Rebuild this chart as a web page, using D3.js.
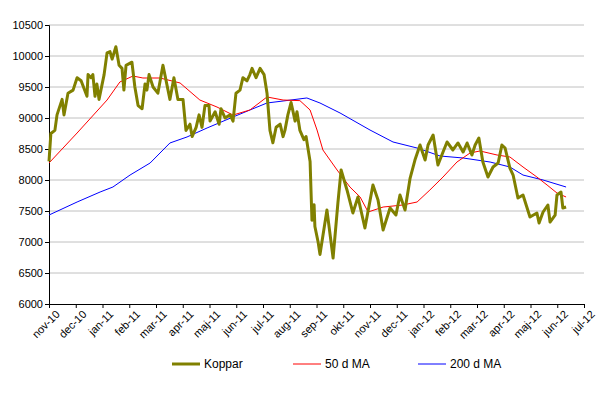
<!DOCTYPE html>
<html><head><meta charset="utf-8">
<script src="https://cdn.jsdelivr.net/npm/d3@7"></script>
<style>
body{margin:0;background:#fff}
text{font-family:"Liberation Sans",Arial,sans-serif;font-size:11px;fill:#000}
</style></head>
<body><svg width="612" height="400"></svg>
<script>
// x = months since nov-10
var monthLabels = ["nov-10","dec-10","jan-11","feb-11","mar-11","apr-11","maj-11","jun-11","jul-11","aug-11","sep-11","okt-11","nov-11","dec-11","jan-12","feb-12","mar-12","apr-12","maj-12","jun-12","jul-12"];
var yTicks = [6000,6500,7000,7500,8000,8500,9000,9500,10000,10500];

var kopparX = [0,.07,.22,.30,.49,.56,.71,.90,1.05,1.20,1.42,1.46,1.57,1.64,1.72,1.79,1.87,2.06,2.17,2.28,2.36,2.50,2.62,2.73,2.80,2.88,3.10,3.21,3.33,3.48,3.59,3.66,3.74,3.89,4.07,4.26,4.52,4.67,4.82,5.01,5.12,5.27,5.35,5.50,5.61,5.72,5.83,5.98,6.02,6.21,6.36,6.43,6.58,6.77,6.88,6.99,7.14,7.25,7.40,7.51,7.59,7.74,7.89,8.04,8.15,8.26,8.37,8.49,8.64,8.75,8.82,8.93,9.05,9.20,9.27,9.38,9.53,9.61,9.76,9.83,9.91,9.94,10.06,10.13,10.39,10.62,10.80,10.92,11.14,11.36,11.55,11.81,12.11,12.30,12.49,12.75,12.97,13.12,13.31,13.50,13.68,13.87,14.06,14.17,14.36,14.54,14.73,14.88,15.10,15.29,15.48,15.63,15.81,15.93,16.07,16.22,16.41,16.60,16.79,16.93,17.05,17.23,17.35,17.53,17.72,17.98,18.24,18.32,18.47,18.65,18.73,18.92,18.99,19.14,19.21,19.33];
var kopparY = [8300,8750,8800,9050,9300,9050,9400,9450,9650,9600,9350,9700,9650,9700,9350,9550,9300,9700,10050,10070,9950,10150,9850,9800,9450,9850,9900,9500,9200,9150,9550,9450,9700,9500,9400,9850,9300,9650,9300,9300,8800,8900,8700,8850,9050,8850,9200,9200,8950,9100,8900,9150,9000,9050,8950,9400,9450,9650,9600,9700,9800,9650,9800,9700,9400,8800,8600,8850,8900,8700,8800,9050,9250,8950,9100,8800,8650,8700,8300,7350,7600,7250,7000,6800,7516,6742,7629,8161,7839,7468,7726,7226,7920,7677,7193,7548,7435,7758,7516,8032,8322,8564,8322,8564,8726,8242,8451,8613,8484,8597,8451,8597,8403,8564,8677,8290,8048,8210,8274,8564,8516,8193,8080,7710,7758,7403,7468,7306,7484,7597,7322,7435,7758,7806,7548,7564];

var ma50X = [0,1.05,2.17,2.65,3.14,3.51,4.15,4.90,5.64,6.28,6.88,7.51,8.15,8.75,9.38,9.76,10.02,10.24,10.77,11.25,11.63,11.93,12.49,13.23,13.76,14.24,14.73,15.25,15.74,16.11,16.75,17.23,17.72,18.24,18.62,18.99,19.33];
var ma50Y = [8274,8758,9290,9581,9677,9645,9645,9565,9290,9177,9048,9129,9339,9290,9280,9129,8806,8484,8161,7887,7726,7484,7564,7597,7645,7839,8048,8290,8435,8468,8403,8371,8210,8048,7919,7790,7726];

var ma200X = [0,1.05,1.91,2.39,3.03,3.78,4.52,5.16,5.91,6.88,7.51,8.15,8.75,9.64,10.13,10.88,12.00,12.86,13.76,14.62,15.48,16.49,17.23,17.72,18.47,19.33];
var ma200Y = [7435,7645,7806,7887,8080,8274,8597,8694,8839,9016,9129,9242,9274,9323,9242,9081,8806,8613,8516,8387,8355,8290,8210,8080,8000,7887];

var svg = d3.select("svg"),
    margin = {top: 25, left: 49},
    width = 535, height = 279;
var g = svg.append("g").attr("transform", "translate(" + margin.left + "," + margin.top + ")");

var x = d3.scaleLinear().domain([0, 20]).range([0, width]);
var y = d3.scaleLinear().domain([6000, 10500]).range([height, 0]);

// grid
g.selectAll(".grid").data(yTicks.slice(1)).enter().append("line")
  .attr("x1", 0).attr("x2", width)
  .attr("y1", d => y(d)).attr("y2", d => y(d))
  .attr("stroke", "#c0c0c0");

var ya = g.append("g").call(d3.axisLeft(y).tickValues(yTicks).tickSize(4).tickFormat(d3.format("d")));
ya.select(".domain").attr("stroke", "#000");
ya.selectAll("text").attr("x", -6).style("font-size", "11px");

var xa = g.append("g").attr("transform", "translate(0," + height + ")")
  .call(d3.axisBottom(x).tickValues(d3.range(21)).tickSize(4).tickFormat(i => monthLabels[i]));
xa.select(".domain").attr("stroke", "#000");
xa.selectAll("text").attr("text-anchor", "end")
  .attr("transform", "translate(4,4) rotate(-45)").attr("dy", "0.35em").attr("y", 6).attr("x", 0);

function draw(xs, ys, color, w) {
  var line = d3.line().x((d, i) => x(xs[i])).y(d => y(d));
  g.append("path").datum(ys).attr("d", line)
    .attr("fill", "none").attr("stroke", color).attr("stroke-width", w)
    .attr("stroke-linejoin", "round");
}
draw(ma200X, ma200Y, "#0000ff", 1);
draw(ma50X, ma50Y, "#ff0000", 1);
draw(kopparX, kopparY, "#808000", 3);

// legend
var legend = [["Koppar", "#808000", 3, 172], ["50 d MA", "#ff0000", 1, 293], ["200 d MA", "#0000ff", 1, 418]];
var lg = svg.selectAll(".lg").data(legend).enter().append("g");
lg.append("line").attr("x1", d => d[3]).attr("x2", d => d[3] + 28)
  .attr("y1", 364).attr("y2", 364).attr("stroke", d => d[1]).attr("stroke-width", d => d[2]);
lg.append("text").attr("x", d => d[3] + 32).attr("y", 368).style("font-size", "12px").text(d => d[0]);
</script></body></html>
